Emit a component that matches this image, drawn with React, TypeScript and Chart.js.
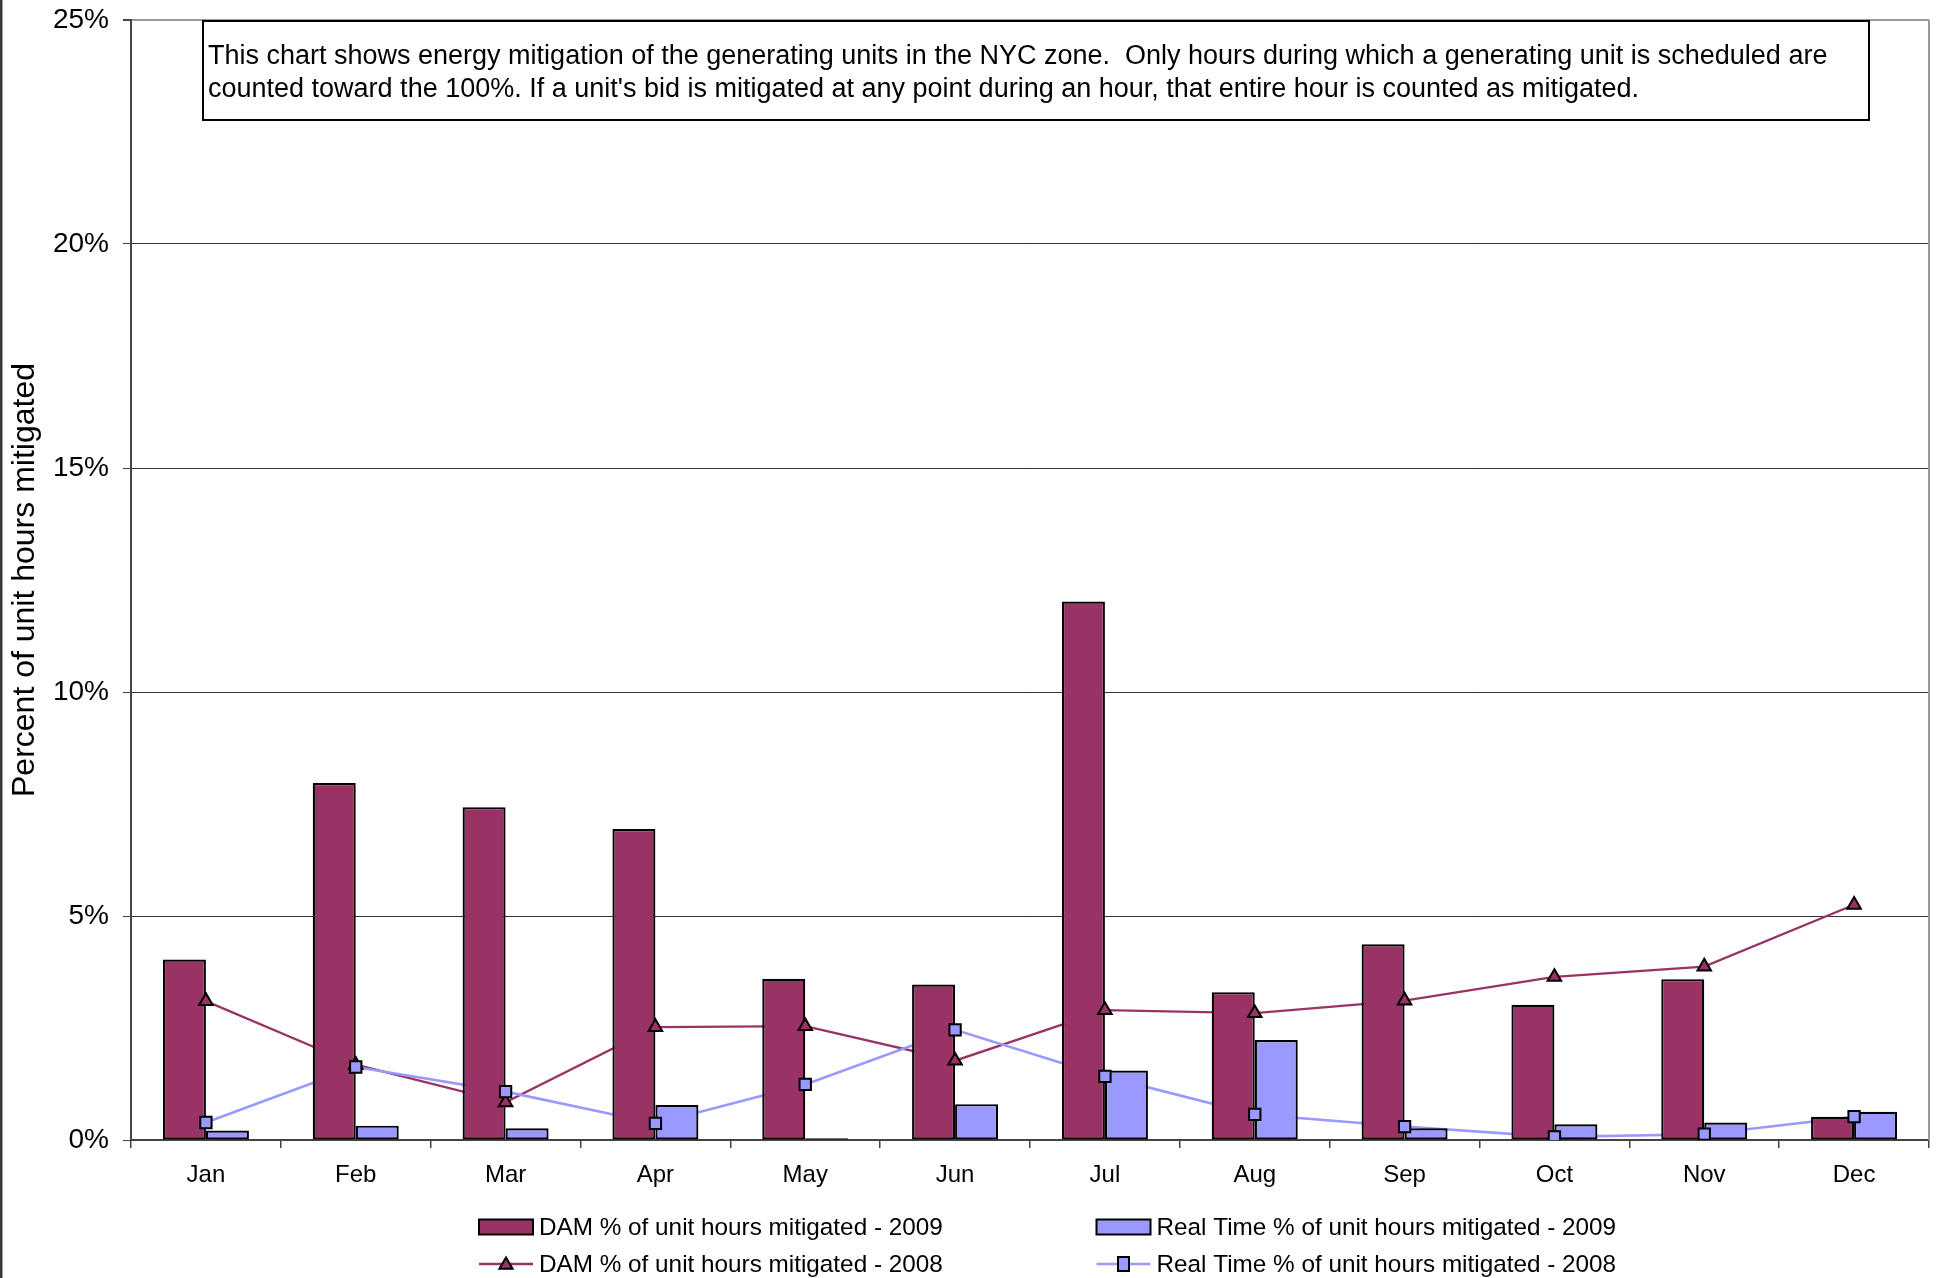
import React, { useEffect, useRef } from 'react';
import { Chart, registerables } from 'chart.js';

Chart.register(...registerables);

// ---------- data ----------
const MONTHS = ['Jan', 'Feb', 'Mar', 'Apr', 'May', 'Jun', 'Jul', 'Aug', 'Sep', 'Oct', 'Nov', 'Dec'];
const DAM_2009 = [4.03, 7.97, 7.43, 6.94, 3.6, 3.47, 12.02, 3.3, 4.37, 3.02, 3.59, 0.52];
const RT_2009 = [0.21, 0.32, 0.26, 0.78, 0.04, 0.8, 1.55, 2.23, 0.26, 0.35, 0.39, 0.63];
const DAM_2008 = [3.1, 1.68, 0.84, 2.52, 2.54, 1.77, 2.9, 2.83, 3.11, 3.64, 3.87, 5.25];
const RT_2008 = [0.39, 1.63, 1.08, 0.37, 1.24, 2.46, 1.42, 0.57, 0.3, 0.07, 0.13, 0.52];
const Y_TICKS = [0, 5, 10, 15, 20, 25];

const Y_TITLE = 'Percent of unit hours mitigated';
const NOTE_LINES = [
  'This chart shows energy mitigation of the generating units in the NYC zone.  Only hours during which a generating unit is scheduled are',
  "counted toward the 100%. If a unit's bid is mitigated at any point during an hour, that entire hour is counted as mitigated.",
];
const LEGEND_DAM_2009 = 'DAM % of unit hours mitigated - 2009';
const LEGEND_RT_2009 = 'Real Time % of unit hours mitigated - 2009';
const LEGEND_DAM_2008 = 'DAM % of unit hours mitigated - 2008';
const LEGEND_RT_2008 = 'Real Time % of unit hours mitigated - 2008';

// ---------- style ----------
const W = 1940;
const H = 1278;
const FONT = '"Liberation Sans", Arial, Helvetica, sans-serif';
const MAROON = '#993366';
const BLUE = '#9999FF';
const PLOT_LEFT = 131;
const PLOT_TOP = 20;
const PLOT_RIGHT = 1929;
const PLOT_BOTTOM = 1140;
const X_AXIS_H = 60;

function drawTriangle(ctx: CanvasRenderingContext2D, x: number, y: number, r: number) {
  ctx.beginPath();
  ctx.moveTo(x, y - r);
  ctx.lineTo(x + r * 0.866, y + r / 2);
  ctx.lineTo(x - r * 0.866, y + r / 2);
  ctx.closePath();
}

const framePlugin = {
  id: 'frame',
  beforeDraw(chart: any) {
    const ctx = chart.ctx as CanvasRenderingContext2D;
    ctx.save();
    ctx.fillStyle = '#fff';
    ctx.fillRect(0, 0, W, H);
    ctx.fillStyle = '#3a3a3a';
    ctx.fillRect(0, 0, 2.5, H);
    ctx.restore();
  },
  afterDraw(chart: any) {
    const ctx = chart.ctx as CanvasRenderingContext2D;
    const a = chart.chartArea;
    ctx.save();
    // right plot border
    ctx.strokeStyle = '#999';
    ctx.lineWidth = 2;
    ctx.beginPath();
    ctx.moveTo(a.right, a.top);
    ctx.lineTo(a.right, a.bottom);
    ctx.stroke();

    // note box
    ctx.fillStyle = '#fff';
    ctx.fillRect(203, 21, 1666, 99);
    ctx.strokeStyle = '#000';
    ctx.lineWidth = 2;
    ctx.strokeRect(203, 21, 1666, 99);
    ctx.fillStyle = '#000';
    ctx.font = `27px ${FONT}`;
    ctx.textAlign = 'left';
    ctx.textBaseline = 'alphabetic';
    ctx.fillText(NOTE_LINES[0], 208, 63.5);
    ctx.fillText(NOTE_LINES[1], 208, 97);

    // legend
    const sw = 54;
    const cols = [479, 1096.5];
    const rows = [1227, 1264];
    ctx.font = `24.3px ${FONT}`;
    ctx.textBaseline = 'middle';
    const bars = [
      { x: cols[0], y: rows[0], c: MAROON, t: LEGEND_DAM_2009 },
      { x: cols[1], y: rows[0], c: BLUE, t: LEGEND_RT_2009 },
    ];
    bars.forEach((b) => {
      ctx.fillStyle = b.c;
      ctx.fillRect(b.x, b.y - 7.5, sw, 15);
      ctx.strokeStyle = '#000';
      ctx.lineWidth = 2;
      ctx.strokeRect(b.x, b.y - 7.5, sw, 15);
      ctx.fillStyle = '#000';
      ctx.fillText(b.t, b.x + 60, b.y + 1);
    });
    const lines = [
      { x: cols[0], y: rows[1], c: MAROON, t: LEGEND_DAM_2008, m: 'tri' },
      { x: cols[1], y: rows[1], c: BLUE, t: LEGEND_RT_2008, m: 'sq' },
    ];
    lines.forEach((l) => {
      ctx.strokeStyle = l.c;
      ctx.lineWidth = 2.5;
      ctx.beginPath();
      ctx.moveTo(l.x, l.y);
      ctx.lineTo(l.x + sw, l.y);
      ctx.stroke();
      const cx = l.x + sw / 2;
      ctx.fillStyle = l.c;
      ctx.strokeStyle = '#000';
      ctx.lineWidth = 2;
      if (l.m === 'tri') {
        drawTriangle(ctx, cx, l.y + 1, 7.6);
        ctx.fill();
        ctx.stroke();
      } else {
        ctx.fillRect(cx - 5.5, l.y - 7, 11, 14);
        ctx.strokeRect(cx - 5.5, l.y - 7, 11, 14);
      }
      ctx.fillStyle = '#000';
      ctx.fillText(l.t, l.x + 60, l.y + 1);
    });
    ctx.restore();
  },
};

export default function App() {
  const ref = useRef<HTMLCanvasElement>(null);

  useEffect(() => {
    const canvas = ref.current;
    if (!canvas) return;
    Chart.defaults.font.family = FONT;
    Chart.defaults.color = '#000';

    const chart = new Chart(canvas, {
      type: 'bar',
      data: {
        labels: MONTHS,
        datasets: [
          {
            type: 'line',
            label: 'dam2008-line',
            data: DAM_2008,
            borderColor: MAROON,
            borderWidth: 2.3,
            pointRadius: 0,
            tension: 0,
            order: 11,
          } as any,
          {
            type: 'line',
            label: 'rt2008-line',
            data: RT_2008,
            borderColor: BLUE,
            borderWidth: 2.6,
            pointRadius: 0,
            tension: 0,
            order: 10,
          } as any,
          {
            type: 'bar',
            label: 'DAM 2009',
            data: DAM_2009,
            backgroundColor: MAROON,
            borderColor: '#000',
            borderWidth: 2.2,
            borderSkipped: false,
            barPercentage: 1,
            categoryPercentage: 0.574,
            order: 4,
          } as any,
          {
            type: 'bar',
            label: 'RT 2009',
            data: RT_2009,
            backgroundColor: BLUE,
            borderColor: '#000',
            borderWidth: 2.2,
            borderSkipped: false,
            barPercentage: 1,
            categoryPercentage: 0.574,
            order: 5,
          } as any,
          {
            type: 'line',
            label: 'dam2008-marks',
            data: DAM_2008,
            showLine: false,
            pointStyle: 'triangle',
            pointRadius: 7.8,
            pointBackgroundColor: MAROON,
            pointBorderColor: '#000',
            pointBorderWidth: 2,
            order: 1,
          } as any,
          {
            type: 'line',
            label: 'rt2008-marks',
            data: RT_2008,
            showLine: false,
            pointStyle: 'rect',
            pointRadius: 8,
            pointBackgroundColor: BLUE,
            pointBorderColor: '#000',
            pointBorderWidth: 2,
            order: 0,
          } as any,
        ],
      },
      options: {
        responsive: false,
        animation: false,
        devicePixelRatio: 1,
        layout: {
          padding: {
            left: 0,
            top: PLOT_TOP,
            right: W - PLOT_RIGHT,
            bottom: H - PLOT_BOTTOM - X_AXIS_H,
          },
        },
        plugins: {
          legend: { display: false },
          tooltip: { enabled: false },
          title: { display: false },
        },
        scales: {
          x: {
            offset: true,
            grid: {
              offset: true,
              drawOnChartArea: false,
              drawTicks: true,
              tickLength: 8,
              color: '#444',
              lineWidth: 1.5,
            },
            border: { color: '#444', width: 2 },
            ticks: {
              font: { family: FONT, size: 24 },
              color: '#000',
              padding: 12.5,
              maxRotation: 0,
              autoSkip: false,
            },
            afterFit: (s: any) => {
              s.height = X_AXIS_H;
              s.paddingLeft = 0;
              s.paddingRight = 0;
            },
          },
          y: {
            min: 0,
            max: 25,
            afterBuildTicks: (s: any) => {
              s.ticks = Y_TICKS.map((v) => ({ value: v }));
            },
            ticks: {
              font: { family: FONT, size: 28 },
              color: '#000',
              padding: 14,
              callback: (v: any) => `${v}%`,
            },
            grid: {
              color: (c: any) => (c.tick && c.tick.value === 25 ? '#999' : '#333'),
              lineWidth: (c: any) => (c.tick && c.tick.value === 25 ? 2 : 1),
              tickLength: 8,
              tickColor: '#444',
              drawTicks: true,
            },
            border: { color: '#444', width: 2 },
            title: {
              display: true,
              text: Y_TITLE,
              font: { family: FONT, size: 32 },
              color: '#000',
              padding: { top: 6, bottom: 0 },
            },
            afterFit: (s: any) => {
              s.width = PLOT_LEFT;
              s.paddingTop = 0;
              s.paddingBottom = 0;
            },
          },
        },
      },
      plugins: [framePlugin],
    } as any);

    return () => chart.destroy();
  }, []);

  return (
    <div style={{ position: 'absolute', left: 0, top: 0, width: W, height: H, background: '#fff' }}>
      <canvas ref={ref} width={W} height={H} style={{ width: W, height: H, display: 'block' }} />
    </div>
  );
}
